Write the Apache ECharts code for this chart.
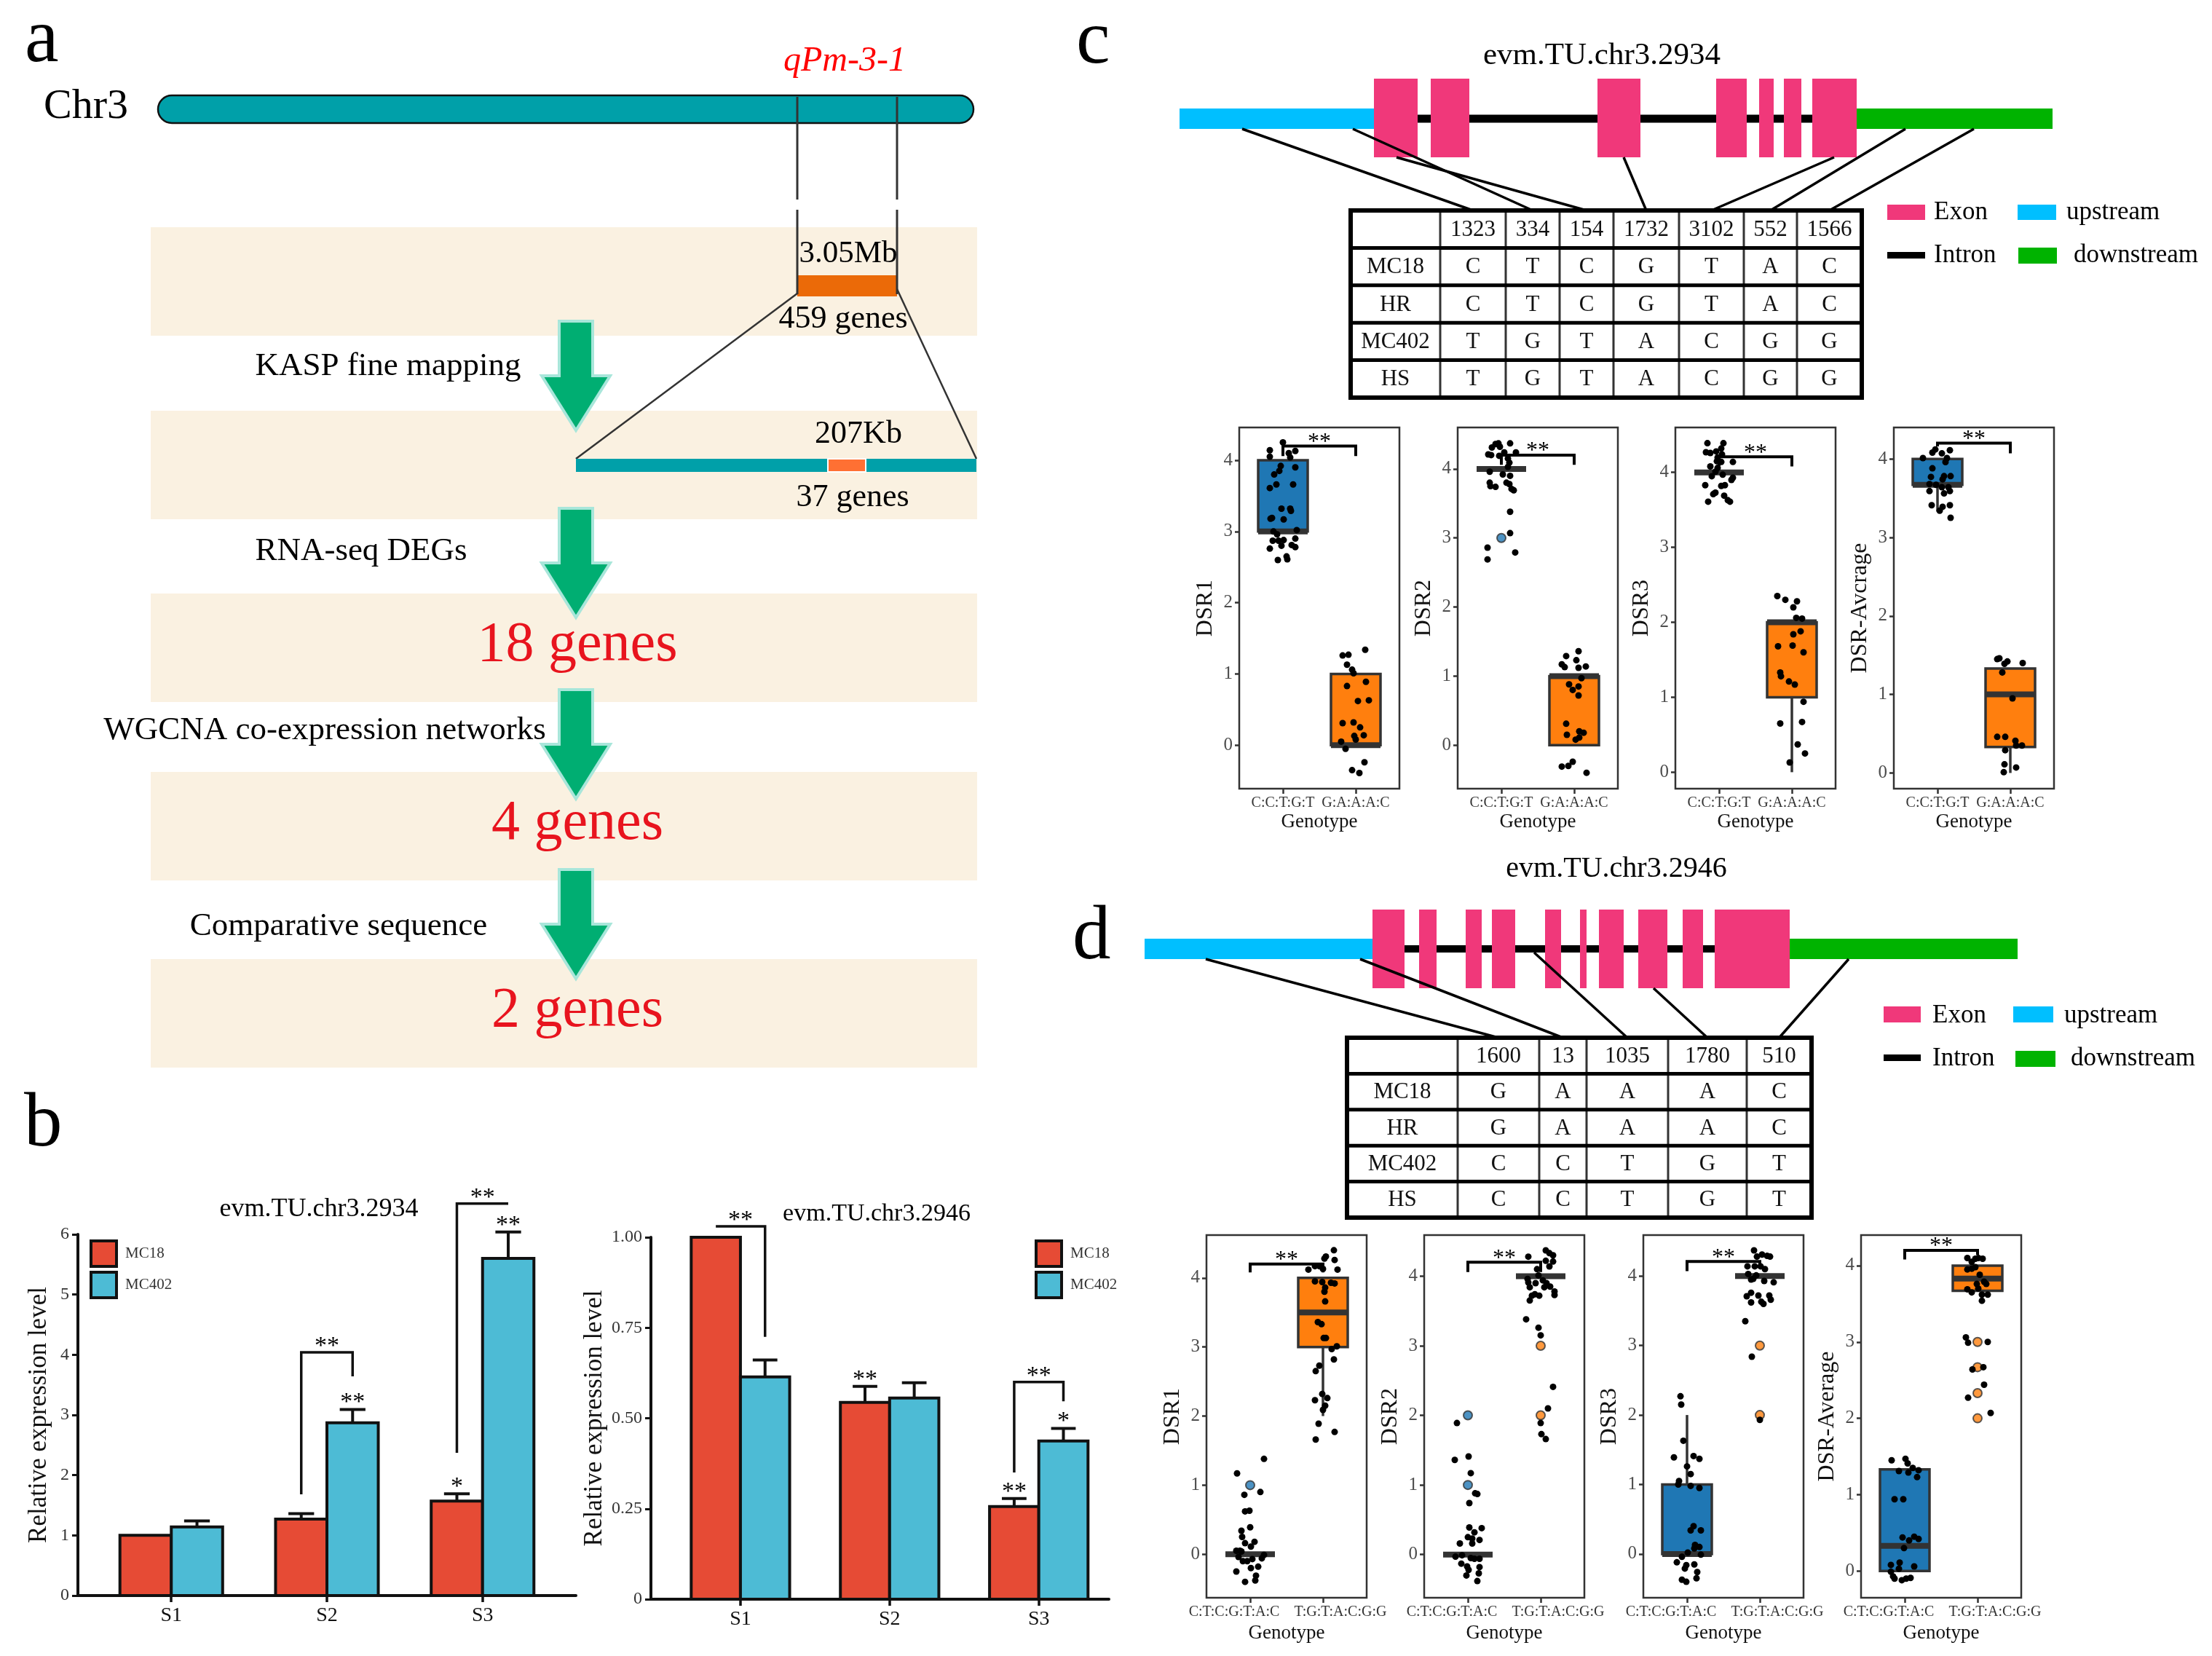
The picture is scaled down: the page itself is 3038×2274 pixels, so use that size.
<!DOCTYPE html>
<html>
<head>
<meta charset="utf-8">
<title>qPm-3-1 candidate gene figure</title>
<script src="https://cdn.jsdelivr.net/npm/echarts@6.0.0/dist/echarts.min.js"></script>
<style>
html,body{margin:0;padding:0;background:#ffffff;}
#chart{width:3038px;height:2274px;}
</style>
</head>
<body>
<div id="chart"></div>
<script>
// ================= DATA =================
// ---- Panel a: mapping pipeline ----
const chromosomeName = 'Chr3';
const qtlName = 'qPm-3-1';
const fineMapLabels = ['3.05Mb', '459 genes'];
const candidateLabels = ['207Kb', '37 genes'];
const flowMethods = ['KASP fine mapping', 'RNA-seq DEGs', 'WGCNA co-expression networks', 'Comparative sequence'];
const flowResults = ['', '', '18 genes', '4 genes', '2 genes'];
const panelLetters = ['a', 'b', 'c', 'd'];

// ---- Panel b: qRT-PCR ----
const stages = ['S1', 'S2', 'S3'];
const lineNames = ['MC18', 'MC402'];
const gene2934Title = 'evm.TU.chr3.2934';
const gene2946Title = 'evm.TU.chr3.2946';
const expr2934MC18 = [1.00, 1.27, 1.57];
const err2934MC18 = [0.00, 0.09, 0.12];
const expr2934MC402 = [1.14, 2.87, 5.60];
const err2934MC402 = [0.10, 0.22, 0.44];
const sig2934MC18 = ['', '', '*'];
const sig2934MC402 = ['', '**', '**'];
const bracket2934 = [[1, 1.68, 4.04, 3.64, '**'], [2, 2.37, 6.51, 6.51, '**']];
const expr2946MC18 = [1.00, 0.544, 0.256];
const err2946MC18 = [0.00, 0.044, 0.022];
const expr2946MC402 = [0.614, 0.556, 0.437];
const err2946MC402 = [0.047, 0.042, 0.035];
const sig2946MC18 = ['', '**', '**'];
const sig2946MC402 = ['', '', '*'];
const bracket2946 = [[0, 1.03, 1.03, 0.725, '**'], [2, 0.35, 0.60, 0.547, '**']];

// ---- Panels c/d: gene models (relative units) and SNP tables ----
const gene2934Upstream = [0, 267];
const gene2934Exons = [[267,327],[345,398],[574,633],[737,779],[796,816],[830,854],[869,930]];
const gene2934Downstream = [930, 1199];
const snp2934Pos = [86, 238, 298, 610, 899, 997, 1091];
const snp2934Header = ['1323', '334', '154', '1732', '3102', '552', '1566'];
const accessions = ['MC18', 'HR', 'MC402', 'HS'];
const snp2934Alleles = [
  ['C','T','C','G','T','A','C'],
  ['C','T','C','G','T','A','C'],
  ['T','G','T','A','C','G','G'],
  ['T','G','T','A','C','G','G']
];
const gene2946Upstream = [0, 313];
const gene2946Exons = [[313,357],[377,401],[441,463],[477,509],[550,572],[598,607],[624,658],[678,718],[739,767],[783,886]];
const gene2946Downstream = [886, 1199];
const snp2946Pos = [84, 296, 535, 699, 967];
const snp2946Header = ['1600', '13', '1035', '1780', '510'];
const snp2946Alleles = [
  ['G','A','A','A','C'],
  ['G','A','A','A','C'],
  ['C','C','T','G','T'],
  ['C','C','T','G','T']
];
const structureLegend = ['Exon', 'upstream', 'Intron', 'downstream'];

// ---- Panels c/d: disease severity box plots ----
const genotype2934 = ['C:C:T:G:T', 'G:A:A:A:C'];
const genotype2946 = ['C:T:C:G:T:A:C', 'T:G:T:A:C:G:G'];
const traits2934 = ['DSR1', 'DSR2', 'DSR3', 'DSR-Avcrage'];
const traits2946 = ['DSR1', 'DSR2', 'DSR3', 'DSR-Average'];
// box stats per genotype: [min, q1, median, q3, max]
const box2934DSR1 = [[3,3,3,4,4],[0,0,0,1,1]];
const box2934DSR2 = [[4,4,4,4,4],[0,0,1,1,1]];
const box2934DSR3 = [[4,4,4,4,4],[0,1,2,2,2]];
const box2934Avg  = [[3.33,3.67,3.67,4,4],[0,0.33,1,1.33,1.33]];
const box2946DSR1 = [[0,0,0,0,0],[2,3,3.5,4,4]];
const box2946DSR2 = [[0,0,0,0,0],[4,4,4,4,4]];
const box2946DSR3 = [[0,0,0,1,2],[4,4,4,4,4]];
const box2946Avg  = [[0,0,0.33,1.33,1.33],[3.67,3.67,3.83,4,4]];
// jittered individual points [x (genotype index + jitter), score]
const pts2934DSR1 = [[1.00,4.25],[0.82,4.14],[0.82,4.05],[1.08,4.10],[1.10,4.04],[1.17,4.13],[0.97,3.92],[1.17,3.90],[0.95,3.85],[0.88,3.80],[0.91,3.66],[0.82,3.61],[1.14,3.66],[0.98,3.32],[1.10,3.32],[1.11,3.29],[0.83,3.18],[0.85,3.19],[1.01,3.17],[1.19,3.02],[0.87,3.00],[0.92,2.96],[0.86,2.87],[0.94,2.87],[1.01,2.88],[1.17,2.90],[0.82,2.76],[0.98,2.80],[1.12,2.81],[1.17,2.78],[0.93,2.60],[1.05,2.65],[1.06,2.61],
  [1.82,1.26],[1.90,1.27],[2.13,1.34],[1.88,1.13],[1.95,1.06],[1.97,1.01],[1.88,0.83],[2.14,0.89],[2.03,0.62],[2.18,0.63],[1.82,0.31],[1.97,0.32],[2.06,0.25],[1.98,0.13],[2.11,0.14],[1.80,0.05],[2.00,0.08],[1.86,-0.05],[2.12,-0.24],[1.95,-0.35],[2.05,-0.39]];
const pts2934DSR2 = [[0.82,4.21],[0.87,4.31],[0.92,4.36],[0.96,4.37],[0.98,4.32],[1.12,4.37],[0.86,4.20],[0.97,4.19],[1.04,4.24],[1.09,4.15],[1.20,4.24],[1.11,4.09],[1.09,4.03],[0.84,3.96],[1.02,3.92],[1.12,3.90],[0.84,3.80],[0.85,3.75],[0.92,3.74],[1.07,3.80],[1.11,3.78],[1.14,3.71],[1.17,3.69],[1.12,3.38],[1.12,3.07],[0.81,2.86],[0.81,2.69],[1.19,2.79],
  [1.89,1.29],[2.06,1.36],[2.03,1.23],[1.83,1.17],[1.87,1.13],[2.06,1.12],[2.16,1.14],[2.10,0.97],[1.93,0.88],[2.06,0.85],[1.98,0.80],[2.06,0.72],[1.89,0.31],[1.90,0.15],[2.07,0.20],[2.13,0.18],[2.07,0.11],[2.02,0.08],[1.83,-0.31],[1.92,-0.30],[1.98,-0.24],[2.17,-0.40]];
const pts2934DSR3 = [[0.84,4.39],[1.06,4.39],[0.82,4.27],[0.88,4.26],[0.96,4.28],[1.03,4.32],[1.04,4.24],[0.98,4.20],[0.97,4.15],[1.03,4.14],[1.19,4.14],[0.88,4.08],[0.98,4.06],[0.95,4.01],[1.05,3.97],[0.90,3.95],[1.19,3.93],[1.17,3.90],[0.81,3.83],[1.03,3.82],[1.08,3.83],[0.95,3.73],[0.92,3.71],[1.07,3.69],[1.12,3.63],[0.85,3.61],[1.15,3.61],
  [1.80,2.35],[1.91,2.30],[2.07,2.28],[2.02,2.20],[2.06,2.06],[2.14,2.05],[2.02,1.84],[2.12,1.88],[1.81,1.68],[2.01,1.69],[2.16,1.60],[1.84,1.33],[1.85,1.28],[1.96,1.21],[2.04,1.17],[2.16,0.94],[1.84,0.65],[2.14,0.67],[2.08,0.37],[2.18,0.25],[1.97,0.13]];
const pts2934Avg = [[0.93,4.08],[0.97,4.12],[1.06,4.07],[1.17,4.11],[1.13,4.01],[1.11,3.96],[0.80,4.01],[0.93,3.88],[0.91,3.77],[1.09,3.78],[1.18,3.78],[1.07,3.74],[0.89,3.68],[0.98,3.67],[1.06,3.64],[1.15,3.64],[0.89,3.59],[1.09,3.56],[1.17,3.59],[0.92,3.41],[1.07,3.39],[1.03,3.34],[1.17,3.41],[1.18,3.25],
  [1.82,1.45],[1.85,1.46],[1.92,1.39],[1.96,1.42],[2.17,1.40],[1.89,1.28],[2.03,0.95],[1.82,0.46],[1.93,0.46],[2.07,0.41],[2.08,0.35],[2.16,0.35],[1.93,0.29],[1.92,0.11],[2.08,0.07],[1.91,0.01]];
const pts2946DSR1 = [[0.82,1.17],[1.19,1.38],[1.14,0.90],[0.92,0.86],[0.93,0.62],[0.99,0.63],[1.00,0.39],[0.88,0.34],[0.89,0.25],[0.93,0.16],[1.06,0.18],[1.01,0.11],[0.81,0.05],[0.86,0.05],[0.88,0.04],[0.84,-0.04],[0.90,-0.10],[0.96,-0.10],[1.03,-0.07],[1.16,-0.06],[1.19,-0.01],[1.01,-0.20],[1.11,-0.18],[0.81,-0.25],[1.08,-0.31],[1.07,-0.38],[0.93,-0.40],
  [1.80,4.12],[1.89,4.17],[1.95,4.17],[2.00,4.13],[2.02,4.28],[2.04,4.31],[2.15,4.40],[2.16,4.26],[2.20,4.12],[1.89,3.95],[1.99,3.94],[2.11,3.93],[2.16,3.92],[2.03,3.86],[2.02,3.80],[2.03,3.66],[1.93,3.36],[1.98,3.33],[2.01,3.13],[2.04,3.13],[2.19,3.01],[2.12,2.97],[2.15,2.82],[1.95,2.73],[1.90,2.65],[1.99,2.32],[1.89,2.23],[2.06,2.26],[2.03,2.15],[2.00,2.09],[1.94,1.89],[2.16,1.77],[1.90,1.66]];
const pts2946DSR2 = [[0.85,1.89],[0.82,1.36],[1.01,1.41],[1.04,1.17],[1.10,0.88],[1.13,0.87],[1.02,0.74],[1.02,0.39],[1.19,0.38],[1.09,0.32],[1.00,0.25],[1.06,0.23],[1.16,0.21],[0.89,0.16],[1.06,0.16],[0.83,-0.03],[0.92,-0.01],[1.04,-0.05],[1.09,-0.06],[1.16,-0.06],[0.91,-0.13],[0.99,-0.17],[1.01,-0.22],[1.16,-0.18],[0.98,-0.30],[1.15,-0.27],[1.13,-0.38],
  [1.83,4.28],[2.07,4.37],[2.12,4.33],[2.17,4.30],[2.07,4.22],[2.17,4.21],[2.12,4.14],[1.95,4.10],[1.97,4.01],[1.82,3.96],[1.93,3.90],[1.83,3.91],[2.03,3.94],[2.08,3.90],[2.13,3.85],[2.05,3.84],[1.85,3.84],[2.19,3.78],[2.19,3.73],[1.92,3.74],[1.98,3.72],[1.88,3.72],[1.85,3.65],[1.80,3.38],[1.97,3.26],[2.00,3.15],[2.17,2.41],[2.10,2.10],[2.00,1.89],[2.01,1.73],[2.07,1.66]];
const pts2946DSR3 = [[0.91,2.27],[0.92,2.15],[0.95,1.63],[0.82,1.39],[1.09,1.41],[1.17,1.37],[1.00,1.26],[1.05,1.15],[0.89,1.05],[0.88,1.00],[1.05,0.98],[1.17,0.95],[1.09,0.40],[1.05,0.34],[1.19,0.34],[1.11,0.13],[1.10,0.08],[1.17,0.10],[1.01,0.02],[1.19,-0.01],[0.93,-0.04],[0.86,-0.12],[1.10,-0.15],[0.99,-0.16],[0.97,-0.21],[1.14,-0.26],[0.93,-0.37],[0.99,-0.40],[1.13,-0.35],
  [1.92,4.37],[1.96,4.28],[2.03,4.31],[2.10,4.29],[2.14,4.28],[1.83,4.14],[1.93,4.14],[2.01,4.14],[2.07,4.10],[1.84,4.03],[1.95,4.01],[1.91,3.96],[1.88,3.95],[2.06,3.93],[2.19,3.91],[1.88,3.76],[1.82,3.71],[1.98,3.72],[2.13,3.72],[1.88,3.62],[2.02,3.63],[2.05,3.60],[2.15,3.66],[1.80,3.35],[1.89,2.84],[2.00,1.93]];
const pts2946Avg = [[0.82,1.45],[1.01,1.47],[1.04,1.41],[1.11,1.35],[1.19,1.32],[0.92,1.31],[1.05,1.29],[1.17,1.23],[0.86,0.94],[0.98,0.94],[0.97,0.44],[1.06,0.40],[1.13,0.45],[1.19,0.42],[0.99,0.30],[0.81,0.08],[0.93,0.11],[1.13,0.06],[0.92,0.03],[0.81,-0.01],[0.86,-0.10],[0.96,-0.12],[1.02,-0.10],[1.08,-0.09],[0.84,-0.07],
  [1.86,4.10],[1.92,4.05],[1.97,4.09],[2.01,4.10],[2.07,4.09],[1.86,3.95],[1.92,3.96],[1.97,3.98],[2.03,3.88],[2.09,3.79],[2.12,3.76],[1.99,3.76],[1.86,3.69],[1.92,3.65],[2.01,3.70],[2.06,3.62],[2.14,3.62],[2.06,3.54],[1.84,3.06],[1.87,2.99],[2.14,3.00],[2.08,2.67],[1.93,2.64],[2.09,2.44],[1.87,2.27],[2.18,2.07]];
// box-plot outliers [genotype index, score]
const out2934DSR1 = [];
const out2934DSR2 = [[1,3]];
const out2934DSR3 = [];
const out2934Avg = [];
const out2946DSR1 = [[1,1]];
const out2946DSR2 = [[1,2],[1,1],[2,3],[2,2]];
const out2946DSR3 = [[2,3],[2,2]];
const out2946Avg = [[2,3],[2,2.67],[2,2.33],[2,2]];
// significance brackets [top, left tip, right tip]
const br2934 = [[4.20,4.06,4.06],[4.20,4.06,4.06],[4.21,4.08,4.08],[4.20,4.16,4.07]];
const br2946 = [[4.20,4.08,4.08],[4.20,4.06,4.06],[4.21,4.07,4.14],[4.20,4.08,4.14]];
const yRange2934 = [[-0.61,4.46],[-0.63,4.60],[-0.22,4.60],[-0.20,4.40]];
const yRange2946 = [[-0.63,4.62],[-0.62,4.59],[-0.63,4.59],[-0.35,4.40]];
const scoreTicks = [0, 1, 2, 3, 4];

// ================= STYLE / LAYOUT =================
const FONT = 'Liberation Serif';
const COL = {
  teal:'#00A0A9', orangeBar:'#EB6A08', orangeSeg:'#FF7033', band:'#FAF1E1',
  arrow:'#00AE72', arrowEdge:'#A8E6DA', red:'#E8141E', qtl:'#FF0000',
  mc18:'#E64B35', mc402:'#4DBBD5',
  up:'#00BFFF', down:'#00B300', exon:'#F0387A', intron:'#000000',
  blue:'#1F77B4', orange:'#FF7F0E'
};
const LAY = {
  letters: [[34,56],[33,1545],[1478,58],[1473,1288]], letterFs: 105,
  chrom: {x0:217, x1:1337, y0:131, y1:169}, chromLabel:[118,147], chromFs:58,
  qtlLabel:[1160,84], qtlFs:48,
  region:[1095,1232], regionGap:[274,288],
  fineBar:{y0:378, y1:407}, fineTop:[1165,349], fineBottom:[1158,438],
  zoomBar:{x0:791, x1:1341, y0:630, y1:648, h0:1137, h1:1189},
  candTop:[1179,596], candBottom:[1171,683], subFs:44,
  band:{x0:207, x1:1342, h:149, tops:[312,564,815,1060,1317]},
  arrow:{cx:791, tops:[441,698,947,1194], head:75, len:150, shaft:46, headW:94},
  methodPos:[[533,503],[496,757],[446,1003],[465,1272]], methodFs:45,
  resultCx:793, resultFs:78,
  titles:[[438,1661,36],[1204,1667,34],[2200,77,43],[2220,1193,40]],
  geneC:{gx0:1620, scale:1, cy:163, barH:28, intronH:11, exonTop:108, exonBottom:216,
         tx0:1855, ty0:289, colW:[123,90,74,74,90,89,73,89], rowH:51.4, tableFs:31,
         swatch:[[2592,281,52,21],[2771,281,53,21],[2592,346,52,9],[2772,340,53,22]],
         legText:[[2656,292],[2838,292],[2656,351],[2848,351]], legFs:35},
  geneD:{gx0:1572, scale:1, cy:1303, barH:28, intronH:10, exonTop:1249, exonBottom:1357,
         tx0:1850, ty0:1425, colW:[152,112,65,112,108,89], rowH:49.4, tableFs:31,
         swatch:[[2587,1382,51,22],[2765,1382,55,22],[2587,1448,51,9],[2768,1443,55,22]],
         legText:[[2654,1395],[2835,1395],[2654,1454],[2844,1454]], legFs:35},
  boxC:{lefts:[1702,2002,2301,2601], top:587, width:220, height:496, labelAt:[1,2], nameGap:32},
  boxD:{lefts:[1657,1956,2257,2556], top:1696, width:220, height:498, labelAt:[0.78,2.24], nameGap:35},
  barW:0.33, boxW:0.68
};

function txt(p, text, opt) {
  return {type:'text', style:Object.assign({text:text, x:p[0], y:p[1], fill:'#000', fontFamily:FONT,
    fontSize:44, align:'center', verticalAlign:'middle'}, opt || {})};
}
function rectEl(a, b, style) {
  return {type:'rect', shape:{x:Math.min(a[0],b[0]), y:Math.min(a[1],b[1]), width:Math.abs(b[0]-a[0]), height:Math.abs(b[1]-a[1])}, style:style};
}
function lineEl(a, b, stroke, w) {
  return {type:'line', shape:{x1:a[0], y1:a[1], x2:b[0], y2:b[1]}, style:{stroke:stroke, lineWidth:w}};
}

// ================= GRIDS & AXES =================
const grids = [], xAxes = [], yAxes = [], series = [];
function addGrid(g) { grids.push(Object.assign({containLabel:false, outerBoundsMode:'none'}, g)); return grids.length - 1; }

// grid 0: schematic layer (identity scale)
addGrid({left:0, top:0, width:3038, height:2274, show:false});
xAxes.push({type:'value', gridIndex:0, min:0, max:3038, show:false});
yAxes.push({type:'value', gridIndex:0, min:0, max:2274, inverse:true, show:false});

function layoutSeries(data, renderItem, z) {
  series.push({type:'custom', coordinateSystem:'cartesian2d', xAxisIndex:0, yAxisIndex:0, silent:true,
    clip:false, z:z || 2, data:data.map((d, i) => [i, 0]), renderItem:renderItem});
}

// ---- Panel a: bands with results ----
layoutSeries(flowResults, function (params, api) {
  const i = params.dataIndex, top = LAY.band.tops[i];
  const ch = [rectEl(api.coord([LAY.band.x0, top]), api.coord([LAY.band.x1, top + LAY.band.h]), {fill:COL.band})];
  if (flowResults[i]) ch.push(txt(api.coord([LAY.resultCx, top + LAY.band.h / 2 - 3]), flowResults[i], {fill:COL.red, fontSize:LAY.resultFs}));
  return {type:'group', children:ch};
}, 1);

// ---- Panel a: chromosome and fine-mapping zoom ----
layoutSeries([chromosomeName], function (params, api) {
  const c = LAY.chrom, ch = [];
  const a = api.coord([c.x0, c.y0]), b = api.coord([c.x1, c.y1]);
  ch.push({type:'rect', shape:{x:a[0], y:a[1], width:b[0]-a[0], height:b[1]-a[1], r:(b[1]-a[1])/2}, style:{fill:COL.teal, stroke:'#111', lineWidth:2.5}});
  ch.push(txt(api.coord(LAY.chromLabel), chromosomeName, {fontSize:LAY.chromFs}));
  ch.push(txt(api.coord(LAY.qtlLabel), qtlName, {fontSize:LAY.qtlFs, fontStyle:'italic', fill:COL.qtl}));
  const fb = LAY.fineBar;
  ch.push(rectEl(api.coord([LAY.region[0], fb.y0]), api.coord([LAY.region[1], fb.y1]), {fill:COL.orangeBar}));
  LAY.region.forEach(x => {
    ch.push(lineEl(api.coord([x, c.y0 + 2]), api.coord([x, LAY.regionGap[0]]), '#333', 3));
    ch.push(lineEl(api.coord([x, LAY.regionGap[1]]), api.coord([x, fb.y1 - 3]), '#333', 3));
  });
  const z = LAY.zoomBar;
  ch.push(lineEl(api.coord([LAY.region[0], fb.y1 - 4]), api.coord([z.x0, z.y0]), '#333', 2.5));
  ch.push(lineEl(api.coord([LAY.region[1], fb.y1 - 10]), api.coord([z.x1, z.y0]), '#333', 2.5));
  ch.push(rectEl(api.coord([z.x0, z.y0]), api.coord([z.x1, z.y1]), {fill:COL.teal}));
  ch.push(rectEl(api.coord([z.h0, z.y0]), api.coord([z.h1, z.y1]), {fill:COL.orangeSeg, stroke:'#fff', lineWidth:2}));
  ch.push(txt(api.coord(LAY.fineTop), fineMapLabels[0], {fontSize:LAY.subFs - 1}));
  ch.push(txt(api.coord(LAY.fineBottom), fineMapLabels[1], {fontSize:LAY.subFs}));
  ch.push(txt(api.coord(LAY.candTop), candidateLabels[0], {fontSize:LAY.subFs}));
  ch.push(txt(api.coord(LAY.candBottom), candidateLabels[1], {fontSize:LAY.subFs}));
  return {type:'group', children:ch};
}, 3);

// ---- Panel a: arrows with method labels ----
layoutSeries(flowMethods, function (params, api) {
  const i = params.dataIndex, A = LAY.arrow, top = A.tops[i], cx = A.cx;
  const pts = [[cx-A.shaft/2, top],[cx+A.shaft/2, top],[cx+A.shaft/2, top+A.head],[cx+A.headW/2, top+A.head],
    [cx, top+A.len],[cx-A.headW/2, top+A.head],[cx-A.shaft/2, top+A.head]].map(p => api.coord(p));
  return {type:'group', children:[
    {type:'polygon', shape:{points:pts}, style:{fill:COL.arrow, stroke:COL.arrowEdge, lineWidth:4, lineJoin:'miter'}},
    txt(api.coord(LAY.methodPos[i]), flowMethods[i], {fontSize:LAY.methodFs})
  ]};
}, 4);

// ---- Panel letters and titles ----
layoutSeries(panelLetters, function (params, api) {
  const p = LAY.letters[params.dataIndex];
  return txt(api.coord(p), panelLetters[params.dataIndex], {fontSize:LAY.letterFs, align:'left'});
}, 5);
const figureTitles = [gene2934Title, gene2946Title, gene2934Title, gene2946Title];
layoutSeries(figureTitles, function (params, api) {
  const t = LAY.titles[params.dataIndex];
  return txt(api.coord([t[0], t[1]]), figureTitles[params.dataIndex], {fontSize:t[2]});
}, 5);

// ---- Panels c/d: gene models, connectors, SNP tables, legends ----
function geneFigure(up, exons, down, snps, header, alleles, L) {
  const X = u => L.gx0 + u * L.scale;
  const colEdges = [L.tx0];
  L.colW.forEach(w => colEdges.push(colEdges[colEdges.length - 1] + w));
  // gene model + connectors
  layoutSeries([exons], function (params, api) {
    const ch = [];
    ch.push(rectEl(api.coord([X(up[1]), L.cy - L.intronH/2]), api.coord([X(down[0]), L.cy + L.intronH/2]), {fill:COL.intron}));
    ch.push(rectEl(api.coord([X(up[0]), L.cy - L.barH/2]), api.coord([X(up[1]), L.cy + L.barH/2]), {fill:COL.up}));
    ch.push(rectEl(api.coord([X(down[0]), L.cy - L.barH/2]), api.coord([X(down[1]), L.cy + L.barH/2]), {fill:COL.down}));
    exons.forEach(e => ch.push(rectEl(api.coord([X(e[0]), L.exonTop]), api.coord([X(e[1]), L.exonBottom]), {fill:COL.exon})));
    snps.forEach((s, k) => {
      const inExon = exons.some(e => s >= e[0] && s <= e[1]);
      const inFlank = s <= up[1] || s >= down[0];
      const y0 = inExon ? L.exonBottom : (inFlank ? L.cy + L.barH/2 : L.cy + L.intronH/2);
      const cx = (colEdges[k+1] + colEdges[k+2]) / 2;
      ch.push(lineEl(api.coord([X(s), y0]), api.coord([cx, L.ty0]), '#000', 3.5));
    });
    return {type:'group', children:ch};
  }, 3);
  // table
  layoutSeries([header], function (params, api) {
    const ch = [];
    const nRow = alleles.length + 1;
    const y = r => L.ty0 + r * L.rowH;
    const x0 = colEdges[0], x1 = colEdges[colEdges.length - 1];
    ch.push(rectEl(api.coord([x0, y(0)]), api.coord([x1, y(nRow)]), {fill:'#fff'}));
    for (let k = 1; k < colEdges.length - 1; k++) ch.push(lineEl(api.coord([colEdges[k], y(0)]), api.coord([colEdges[k], y(nRow)]), '#333', 3));
    for (let r = 1; r < nRow; r++) ch.push(lineEl(api.coord([x0, y(r)]), api.coord([x1, y(r)]), '#000', 5));
    ch.push(rectEl(api.coord([x0, y(0)]), api.coord([x1, y(nRow)]), {fill:null, stroke:'#000', lineWidth:6}));
    for (let r = 0; r < nRow; r++) {
      for (let c = 0; c < colEdges.length - 1; c++) {
        let t = '';
        if (r === 0) t = c === 0 ? '' : header[c-1];
        else t = c === 0 ? accessions[r-1] : alleles[r-1][c-1];
        if (!t) continue;
        ch.push(txt(api.coord([(colEdges[c] + colEdges[c+1]) / 2, y(r) + L.rowH/2 + 1]), t, {fontSize:L.tableFs, fill:'#111'}));
      }
    }
    return {type:'group', children:ch};
  }, 3);
  // legend
  const legCols = [COL.exon, COL.up, COL.intron, COL.down];
  layoutSeries(structureLegend, function (params, api) {
    const i = params.dataIndex, s = L.swatch[i];
    return {type:'group', children:[
      rectEl(api.coord([s[0], s[1]]), api.coord([s[0] + s[2], s[1] + s[3]]), {fill:legCols[i]}),
      txt(api.coord(L.legText[i]), structureLegend[i], {fontSize:L.legFs, align:'left'})
    ]};
  }, 3);
}
geneFigure(gene2934Upstream, gene2934Exons, gene2934Downstream, snp2934Pos, snp2934Header, snp2934Alleles, LAY.geneC);
geneFigure(gene2946Upstream, gene2946Exons, gene2946Downstream, snp2946Pos, snp2946Header, snp2946Alleles, LAY.geneD);

// ---- Panel b: expression bar charts ----
function barChart(grid, xMax, yCfg, mc18, e18, s18, mc402, e402, s402, brackets) {
  const gi = addGrid(grid);
  xAxes.push({type:'value', gridIndex:gi, min:-0.6, max:xMax,
    axisLine:{show:true, onZero:false, lineStyle:{color:'#111', width:4}},
    axisTick:{show:true, customValues:[0,1,2], length:9, lineStyle:{color:'#111', width:3.5}},
    axisLabel:{show:true, customValues:[0,1,2], formatter:v => stages[Math.round(v)], fontFamily:FONT, fontSize:28, color:'#111', margin:14},
    splitLine:{show:false}});
  yAxes.push(Object.assign({type:'value', gridIndex:gi,
    axisLine:{show:true, onZero:false, lineStyle:{color:'#111', width:4}},
    axisTick:{show:true, length:8, lineStyle:{color:'#111', width:3}},
    splitLine:{show:false},
    name:'Relative expression level', nameLocation:'middle',
    nameTextStyle:{fontFamily:FONT, fontSize:35, color:'#111'}}, yCfg));
  const BW = LAY.barW;
  function one(name, vals, errs, sigs, side, color) {
    series.push({type:'custom', name:name, xAxisIndex:gi, yAxisIndex:gi, clip:false, z:3, silent:true,
      itemStyle:{color:color},
      data:vals.map((v, i) => [i, v, errs[i]]),
      renderItem:function (params, api) {
        const i = params.dataIndex, x = api.value(0), v = api.value(1), e = api.value(2);
        const cx = x + side * BW / 2;
        const a = api.coord([cx - BW/2, v]), b = api.coord([cx + BW/2, 0]), m = api.coord([cx, v]);
        const ch = [rectEl(a, b, {fill:color, stroke:'#111', lineWidth:4})];
        let topY = m[1];
        if (e > 0) {
          const t = api.coord([cx, v + e]), hw = (b[0] - a[0]) / 4;
          ch.push(lineEl(m, t, '#111', 4));
          ch.push(lineEl([t[0] - hw, t[1]], [t[0] + hw, t[1]], '#111', 4));
          topY = t[1];
        }
        if (sigs[i]) ch.push(txt([m[0], topY - 9], sigs[i], {fontSize:34}));
        return {type:'group', children:ch};
      }});
  }
  one(lineNames[0], mc18, e18, s18, -1, COL.mc18);
  one(lineNames[1], mc402, e402, s402, 1, COL.mc402);
  series.push({type:'custom', xAxisIndex:gi, yAxisIndex:gi, clip:false, z:4, silent:true,
    data:brackets.map(b => [b[0], b[2]]),
    renderItem:function (params, api) {
      const b = brackets[params.dataIndex], xl = b[0] - BW/2, xr = b[0] + BW/2;
      const p1 = api.coord([xl, b[1]]), p2 = api.coord([xl, b[2]]), p3 = api.coord([xr, b[2]]), p4 = api.coord([xr, b[3]]);
      return {type:'group', children:[
        {type:'polyline', shape:{points:[p1, p2, p3, p4]}, style:{stroke:'#111', lineWidth:3.5, fill:null}},
        txt([(p2[0] + p3[0]) / 2, p2[1] - 8], b[4], {fontSize:34})]};
    }});
}
barChart({left:107, top:1695, width:684, height:496}, 2.6,
  {min:0, max:6, interval:1, nameGap:36, axisLabel:{fontFamily:FONT, fontSize:24, color:'#333', margin:12}},
  expr2934MC18, err2934MC18, sig2934MC18, expr2934MC402, err2934MC402, sig2934MC402, bracket2934);
barChart({left:894, top:1699, width:629, height:497}, 2.47,
  {min:0, max:1, interval:0.25, nameGap:60, axisLabel:{fontFamily:FONT, fontSize:24, color:'#333', margin:12,
    formatter:v => (v === 0 ? '0' : v.toFixed(2))}},
  expr2946MC18, err2946MC18, sig2946MC18, expr2946MC402, err2946MC402, sig2946MC402, bracket2946);

// ---- Panels c/d: box plots ----
function boxPlot(L, k, genotypes, trait, box, pts, outs, br, yr) {
  const gi = addGrid({left:L.lefts[k], top:L.top, width:L.width, height:L.height, show:true,
    borderColor:'#333', borderWidth:2.5, backgroundColor:'rgba(0,0,0,0)'});
  xAxes.push({type:'value', gridIndex:gi, min:0.4, max:2.6,
    axisLine:{show:false, onZero:false},
    axisTick:{show:true, customValues:[1,2], length:7, lineStyle:{color:'#333', width:2.5}},
    axisLabel:{show:true, customValues:L.labelAt, formatter:v => (v < 1.5 ? genotypes[0] : genotypes[1]),
      fontFamily:FONT, fontSize:20, color:'#333', margin:10},
    splitLine:{show:false},
    name:'Genotype', nameLocation:'middle', nameGap:L.nameGap,
    nameTextStyle:{fontFamily:FONT, fontSize:27, color:'#111'}});
  yAxes.push({type:'value', gridIndex:gi, min:yr[0], max:yr[1],
    axisLine:{show:false, onZero:false},
    axisTick:{show:true, customValues:scoreTicks, length:6, lineStyle:{color:'#333', width:2.5}},
    axisLabel:{show:true, customValues:scoreTicks, fontFamily:FONT, fontSize:25, color:'#4D4D4D', margin:9},
    splitLine:{show:false},
    name:trait, nameLocation:'middle', nameGap:30,
    nameTextStyle:{fontFamily:FONT, fontSize:32, color:'#111'}});
  const fills = [COL.blue, COL.orange], BW = LAY.boxW;
  series.push({type:'custom', xAxisIndex:gi, yAxisIndex:gi, clip:false, z:2, silent:true,
    data:box.map((b, i) => [i + 1].concat(b)),
    renderItem:function (params, api) {
      const g = api.value(0), mn = api.value(1), q1 = api.value(2), md = api.value(3), q3 = api.value(4), mx = api.value(5);
      const ch = [];
      if (mx > q3) ch.push(lineEl(api.coord([g, q3]), api.coord([g, mx]), '#333', 3.5));
      if (mn < q1) ch.push(lineEl(api.coord([g, q1]), api.coord([g, mn]), '#333', 3.5));
      ch.push(rectEl(api.coord([g - BW/2, q3]), api.coord([g + BW/2, q1]), {fill:fills[params.dataIndex], stroke:'#333', lineWidth:3.5}));
      ch.push(lineEl(api.coord([g - BW/2, md]), api.coord([g + BW/2, md]), '#333', 8));
      return {type:'group', children:ch};
    }});
  series.push({type:'scatter', xAxisIndex:gi, yAxisIndex:gi, silent:true, z:3,
    data:outs.map(o => ({value:o, itemStyle:{color:fills[o[0] - 1]}})),
    symbolSize:12, itemStyle:{borderColor:'#333', borderWidth:2}});
  series.push({type:'scatter', xAxisIndex:gi, yAxisIndex:gi, silent:true, z:4,
    data:pts, symbolSize:9, itemStyle:{color:'#000', opacity:1}});
  series.push({type:'custom', xAxisIndex:gi, yAxisIndex:gi, clip:false, z:5, silent:true,
    data:[[1, br[0]]],
    renderItem:function (params, api) {
      const p1 = api.coord([1, br[1]]), p2 = api.coord([1, br[0]]), p3 = api.coord([2, br[0]]), p4 = api.coord([2, br[2]]);
      return {type:'group', children:[
        {type:'polyline', shape:{points:[p1, p2, p3, p4]}, style:{stroke:'#000', lineWidth:4, fill:null}},
        txt([(p2[0] + p3[0]) / 2, p2[1] - 5], '**', {fontSize:32})]};
    }});
}
const boxes2934 = [box2934DSR1, box2934DSR2, box2934DSR3, box2934Avg];
const points2934 = [pts2934DSR1, pts2934DSR2, pts2934DSR3, pts2934Avg];
const outs2934 = [out2934DSR1, out2934DSR2, out2934DSR3, out2934Avg];
const boxes2946 = [box2946DSR1, box2946DSR2, box2946DSR3, box2946Avg];
const points2946 = [pts2946DSR1, pts2946DSR2, pts2946DSR3, pts2946Avg];
const outs2946 = [out2946DSR1, out2946DSR2, out2946DSR3, out2946Avg];
for (let k = 0; k < 4; k++) {
  boxPlot(LAY.boxC, k, genotype2934, traits2934[k], boxes2934[k], points2934[k], outs2934[k], br2934[k], yRange2934[k]);
  boxPlot(LAY.boxD, k, genotype2946, traits2946[k], boxes2946[k], points2946[k], outs2946[k], br2946[k], yRange2946[k]);
}

// ================= CHART =================
const legendBase = {orient:'vertical', icon:'rect', itemWidth:35, itemHeight:35, itemGap:4, selectedMode:false,
  itemStyle:{borderColor:'#111', borderWidth:4},
  textStyle:{fontFamily:FONT, fontSize:21, color:'#333', padding:[0,0,0,7]},
  data:lineNames};
const option = {
  backgroundColor:'#ffffff',
  animation:false,
  textStyle:{fontFamily:FONT},
  grid:grids, xAxis:xAxes, yAxis:yAxes,
  legend:[Object.assign({left:118, top:1697}, legendBase), Object.assign({left:1416, top:1697}, legendBase)],
  series:series
};
const chart = echarts.init(document.getElementById('chart'), null, {renderer:'canvas', width:3038, height:2274});
chart.setOption(option);
</script>
</body>
</html>
